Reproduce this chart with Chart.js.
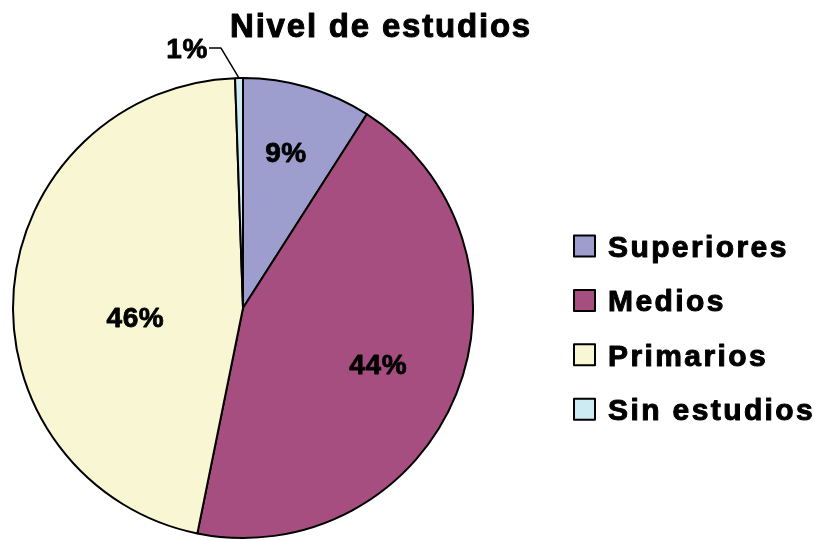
<!DOCTYPE html>
<html>
<head>
<meta charset="utf-8">
<script src="https://cdn.jsdelivr.net/npm/chart.js@4.4.1/dist/chart.umd.min.js"></script>
<style>
  html, body { margin: 0; padding: 0; background: #fff; }
  #wrap { width: 814px; height: 540px; position: relative; }
</style>
</head>
<body>
<div id="wrap"><canvas id="c" width="814" height="540"></canvas></div>
<script>
// ---- data ----
const titleText = 'Nivel de estudios';
const categories = ['Superiores', 'Medios', 'Primarios', 'Sin estudios'];
const shares = [9.05, 44.13, 46.27, 0.55];

// ---- style ----
const sliceColors = ['#9E9ECE', '#A64E7F', '#F9F7D3', '#CDEBF2'];
const FONT = '"Liberation Sans", Arial, sans-serif';
// label placement per slice: radial fraction, angle shift (deg), outside leader flag
const labelPlace = [
  { f: 0.695, shift: -0.7 },
  { f: 0.64, shift: 1.2 },
  { f: 0.47, shift: -10.5 },
  { outside: true }
];

const total = shares.reduce((a, b) => a + b, 0);

function heavyText(ctx, txt, x, y, w) {
  ctx.lineWidth = w;
  ctx.lineJoin = 'round';
  ctx.strokeStyle = '#000';
  ctx.strokeText(txt, x, y);
  ctx.fillText(txt, x, y);
}

const overlay = {
  id: 'overlay',
  afterDraw(chart) {
    const ctx = chart.ctx;
    const meta = chart.getDatasetMeta(0);
    ctx.save();
    ctx.fillStyle = '#000';

    // title
    ctx.font = 'bold 33px ' + FONT;
    ctx.letterSpacing = '1.8px';
    ctx.textAlign = 'left';
    ctx.textBaseline = 'alphabetic';
    heavyText(ctx, titleText, 230, 37, 1.0);

    // slice labels
    ctx.font = 'bold 28px ' + FONT;
    ctx.letterSpacing = '0.6px';
    ctx.textBaseline = 'middle';
    meta.data.forEach((arc, i) => {
      const p = labelPlace[i];
      const txt = Math.round(shares[i] / total * 100) + '%';
      const mid = (arc.startAngle + arc.endAngle) / 2;
      if (p.outside) {
        const ax = arc.x + Math.cos(mid) * arc.outerRadius;
        const ay = arc.y + Math.sin(mid) * arc.outerRadius;
        const ex = ax - 18, ey = ay - 30;
        ctx.beginPath();
        ctx.moveTo(ax, ay);
        ctx.lineTo(ex, ey);
        ctx.lineTo(ex - 12, ey);
        ctx.lineWidth = 1.5;
        ctx.strokeStyle = '#000';
        ctx.stroke();
        ctx.textAlign = 'right';
        heavyText(ctx, txt, ex - 13, ey + 2, 0.8);
      } else {
        const a = mid + p.shift * Math.PI / 180;
        const r = arc.outerRadius * p.f;
        ctx.textAlign = 'center';
        heavyText(ctx, txt, arc.x + Math.cos(a) * r, arc.y + Math.sin(a) * r, 0.8);
      }
    });

    // legend
    ctx.font = 'bold 30px ' + FONT;
    ctx.letterSpacing = '2.4px';
    ctx.textAlign = 'left';
    ctx.textBaseline = 'alphabetic';
    categories.forEach((name, i) => {
      const cy = 246 + i * 54.4;
      ctx.fillStyle = sliceColors[i];
      ctx.fillRect(574, cy - 10.5, 21, 21);
      ctx.lineWidth = 2;
      ctx.strokeStyle = '#000';
      ctx.strokeRect(574, cy - 10.5, 21, 21);
      ctx.fillStyle = '#000';
      heavyText(ctx, name, 608, cy + 11, 1.0);
    });
    ctx.restore();
  }
};

new Chart(document.getElementById('c'), {
  type: 'pie',
  data: {
    labels: categories,
    datasets: [{
      data: shares,
      backgroundColor: sliceColors,
      borderColor: '#000',
      borderWidth: 2,
      hoverOffset: 0,
      offset: 0
    }]
  },
  options: {
    responsive: false,
    animation: false,
    events: [],
    radius: 230,
    layout: { padding: { left: 12, top: 77, right: 340, bottom: 1 } },
    plugins: {
      legend: { display: false },
      title: { display: false },
      tooltip: { enabled: false }
    }
  },
  plugins: [overlay]
});
</script>
</body>
</html>
